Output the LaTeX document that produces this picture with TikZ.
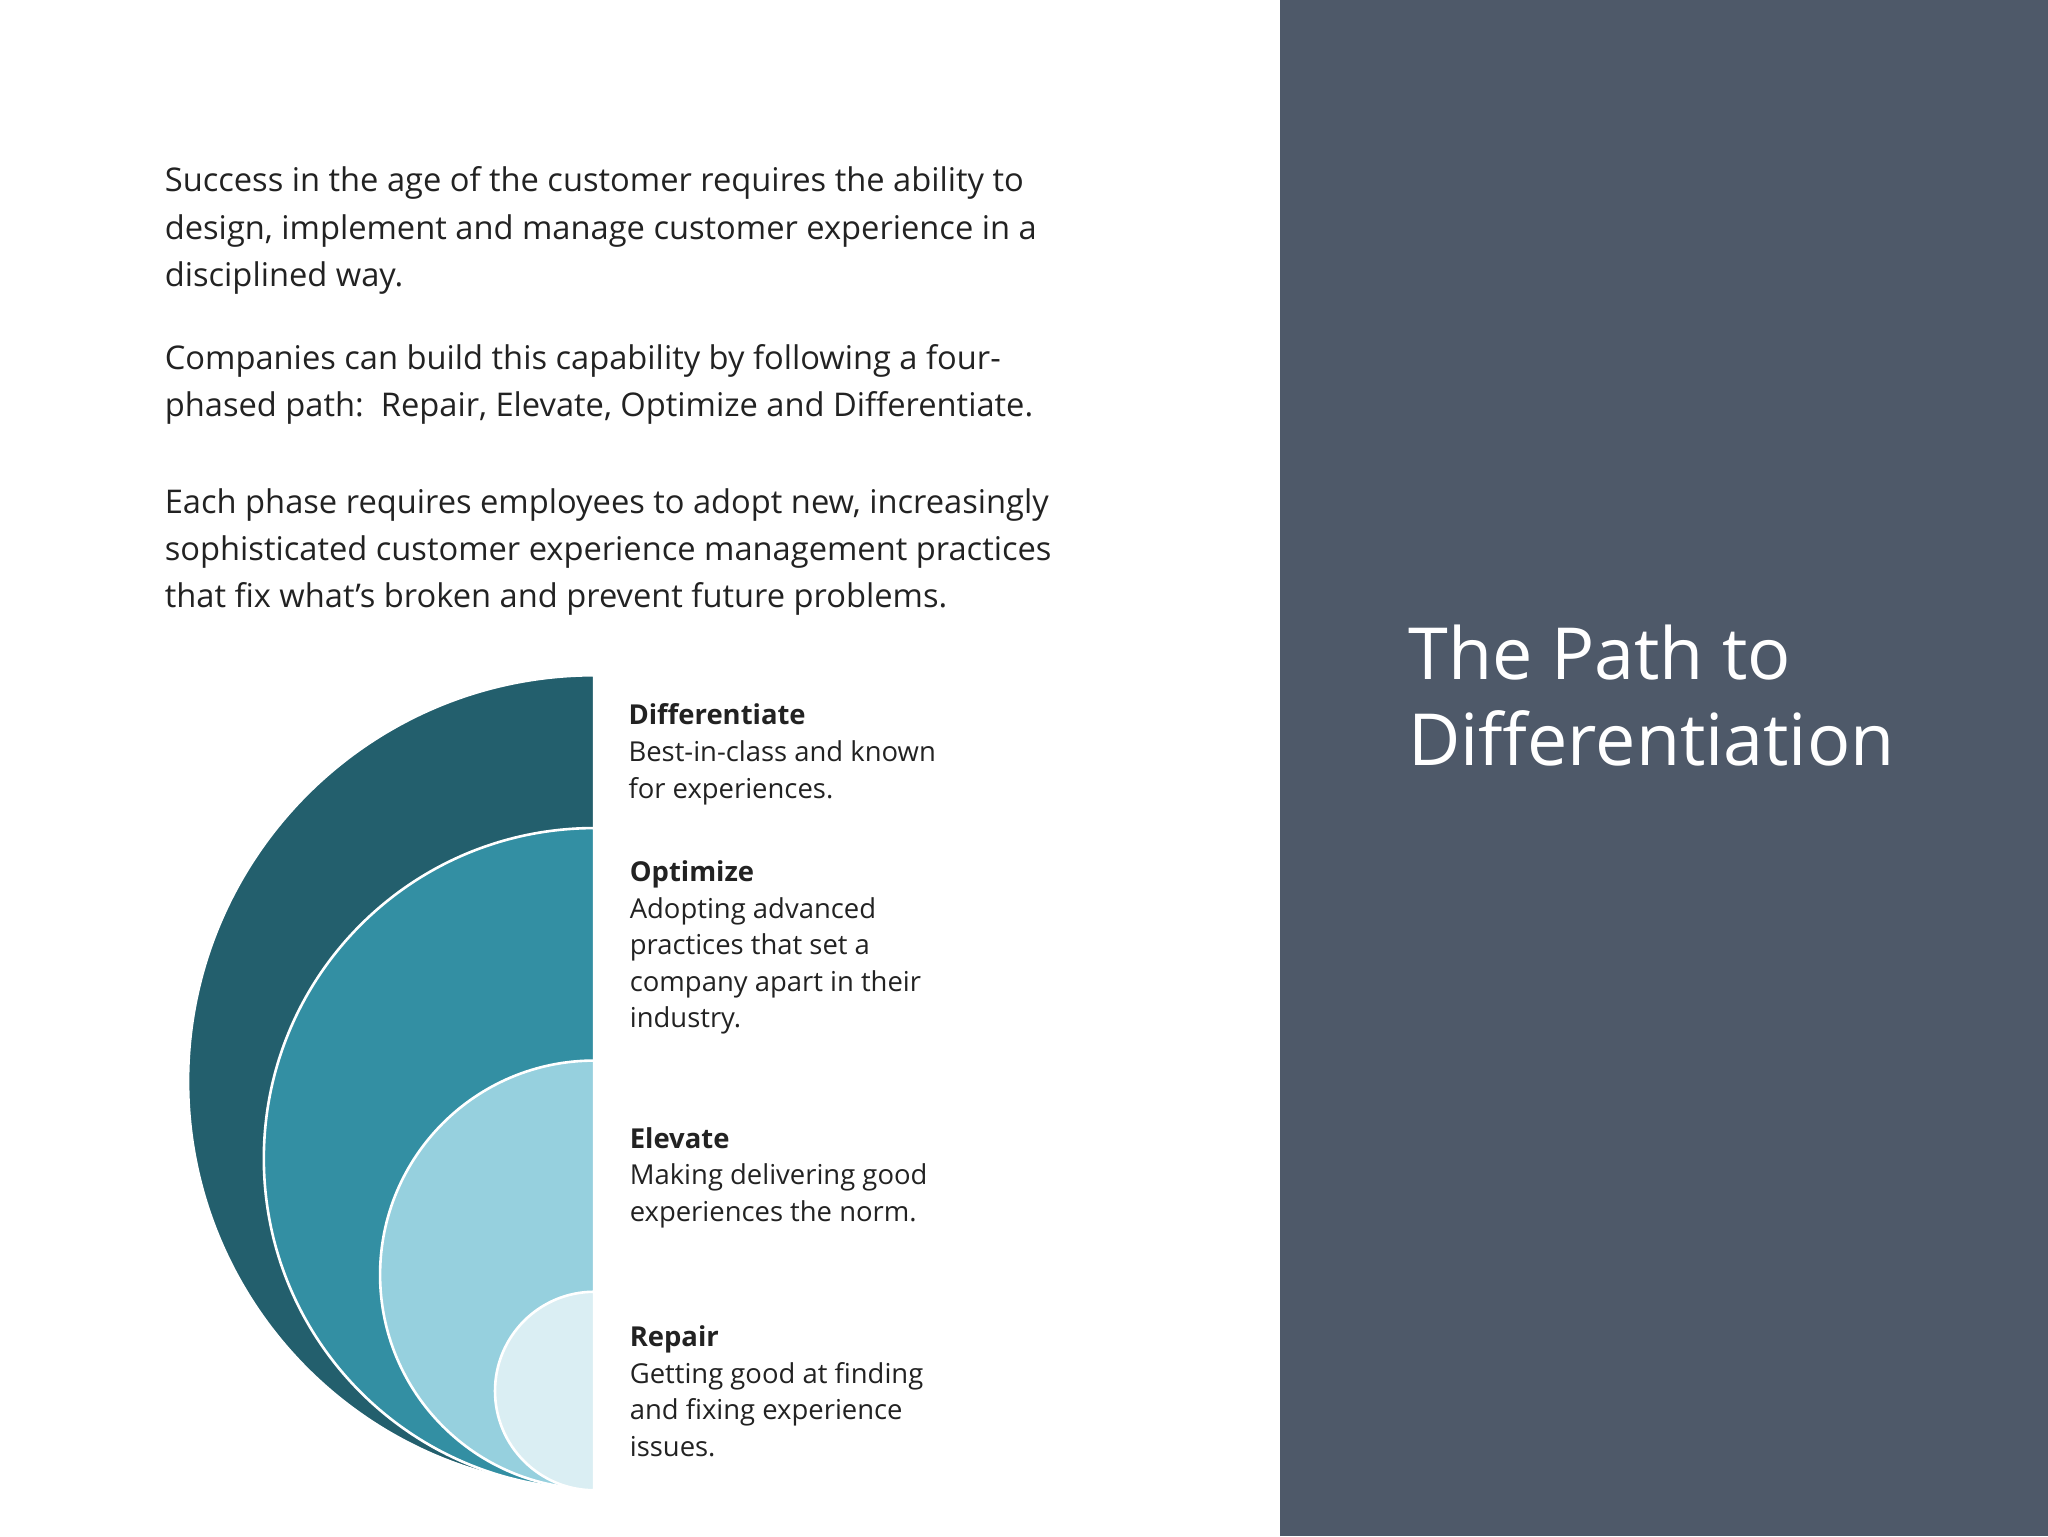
\documentclass[tikz,border=0pt]{standalone}
\usepackage{fontspec}
\setmainfont{Open Sans}
\definecolor{panel}{HTML}{4E5969}
\definecolor{cA}{HTML}{235F6D}
\definecolor{cB}{HTML}{338FA3}
\definecolor{cC}{HTML}{96D0DE}
\definecolor{cD}{HTML}{DAEEF3}
\definecolor{txt}{HTML}{222222}
\begin{document}
\begin{tikzpicture}[x=1pt,y=1pt,
  body/.style={anchor=base west,inner sep=0,text=txt,font=\fontsize{25}{30}\selectfont},
  lbl/.style={anchor=base west,inner sep=0,text=txt,font=\fontsize{21}{26}\selectfont},
  lblh/.style={lbl,font=\fontsize{21}{26}\selectfont\bfseries},
  ttl/.style={anchor=base west,inner sep=0,text=white,font=\fontsize{55}{66}\selectfont},
  ring/.style={draw=white,line width=2}]
\useasboundingbox (0,0) rectangle (1568,1176);
\fill[panel] (980,0) rectangle (1568,1176);
\fill[ring,fill=cA] (455,659) arc[start angle=90,end angle=270,radius=311] -- cycle;
\fill[ring,fill=cB] (455,542) arc[start angle=90,end angle=270,radius=253] -- cycle;
\fill[ring,fill=cC] (455,364) arc[start angle=90,end angle=270,radius=164] -- cycle;
\fill[ring,fill=cD] (455,187) arc[start angle=90,end angle=270,radius=76] -- cycle;
\node[body] (b1) at (126,1029) {Success in the age of the customer requires the ability to};
\node[body] (b2) at (126,993) {design, implement and manage customer experience in a};
\node[body] (b3) at (126,957) {disciplined way.};
\node[body] (b4) at (126,893) {Companies can build this capability by following a four-};
\node[body] (b5) at (126,857) {phased path:\ \ Repair, Elevate, Optimize and Differentiate.};
\node[body] (b6) at (126,783) {Each phase requires employees to adopt new, increasingly};
\node[body] (b7) at (126,747) {sophisticated customer experience management practices};
\node[body] (b8) at (126,711) {that fix what’s broken and prevent future problems.};
\node[lblh] (d0) at (481,621) {Differentiate};
\node[lbl] (d1) at (481,593) {Best-in-class and known};
\node[lbl] (d2) at (481,565) {for experiences.};
\node[lblh] (o0) at (482,501) {Optimize};
\node[lbl] (o1) at (482,473) {Adopting advanced};
\node[lbl] (o2) at (482,445) {practices that set a};
\node[lbl] (o3) at (482,417) {company apart in their};
\node[lbl] (o4) at (482,389) {industry.};
\node[lblh] (e0) at (482,297) {Elevate};
\node[lbl] (e1) at (482,269) {Making delivering good};
\node[lbl] (e2) at (482,241) {experiences the norm.};
\node[lblh] (r0) at (482,145) {Repair};
\node[lbl] (r1) at (482,117) {Getting good at finding};
\node[lbl] (r2) at (482,89) {and fixing experience};
\node[lbl] (r3) at (482,61) {issues.};
\node[ttl] (t1) at (1078,656) {The Path to};
\node[ttl] (t2) at (1078,590) {Differentiation};
\end{tikzpicture}
\end{document}
